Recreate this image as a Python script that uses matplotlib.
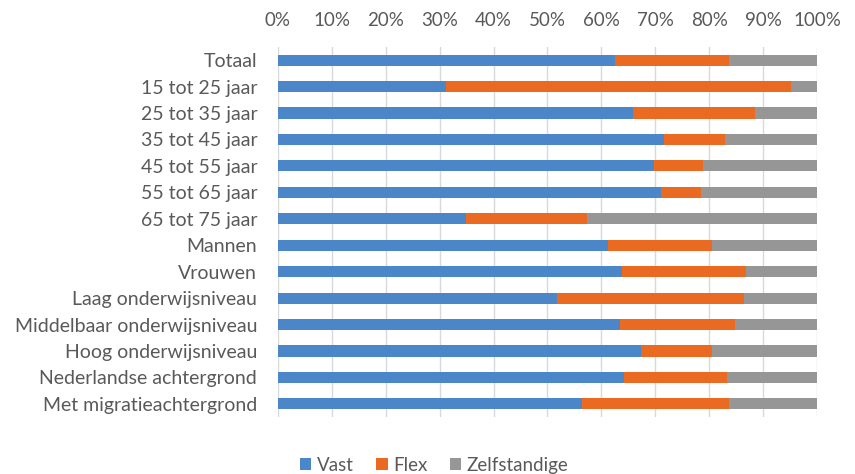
import matplotlib.pyplot as plt
from matplotlib.ticker import PercentFormatter

plt.rcParams['font.family'] = ['Lato', 'DejaVu Sans']

categories = ['Totaal', '15 tot 25 jaar', '25 tot 35 jaar', '35 tot 45 jaar',
              '45 tot 55 jaar', '55 tot 65 jaar', '65 tot 75 jaar', 'Mannen',
              'Vrouwen', 'Laag onderwijsniveau', 'Middelbaar onderwijsniveau',
              'Hoog onderwijsniveau', 'Nederlandse achtergrond',
              'Met migratieachtergrond']
vast = [62.5, 31.2, 65.8, 71.6, 69.7, 71.0, 34.9, 61.3, 63.8, 51.8, 63.5, 67.3, 64.2, 56.4]
flex = [21.1, 63.9, 22.7, 11.4, 9.1, 7.4, 22.5, 19.2, 23.0, 34.6, 21.3, 13.3, 19.1, 27.2]
zelf = [100 - v - f for v, f in zip(vast, flex)]

series = [('Vast', vast, '#4a86c8'), ('Flex', flex, '#ea6a21'),
          ('Zelfstandige', zelf, '#969696')]

fig = plt.figure(figsize=(8.55, 4.74), dpi=100)
ax = fig.add_axes([0.3251, 0.120, 0.6305, 0.781])

y = list(range(len(categories)))
left = [0.0] * len(categories)
for name, vals, col in series:
    ax.barh(y, vals, left=left, height=0.42, color=col, label=name)
    left = [a + b for a, b in zip(left, vals)]

ax.set_xlim(0, 100)
ax.set_ylim(len(categories) - 0.5, -0.5)
ax.set_xticks(range(0, 101, 10))
ax.xaxis.set_major_formatter(PercentFormatter(decimals=0))
ax.xaxis.tick_top()
ax.set_yticks(y)
ax.set_yticklabels(categories)
ax.tick_params(axis='both', length=0, colors='#595959')
ax.tick_params(axis='x', pad=13, labelsize=13.5)
ax.tick_params(axis='y', pad=15, labelsize=14)
ax.grid(axis='x', color='#d9d9d9', linewidth=1)
ax.set_axisbelow(True)
for s in ax.spines.values():
    s.set_visible(False)

fig.legend(loc='lower center', bbox_to_anchor=(0.508, -0.035), ncol=3, frameon=False,
           fontsize=13.5, handlelength=0.6, handleheight=0.6, handletextpad=0.3,
           columnspacing=1.2, labelcolor='#595959')

fig.savefig('out.png', dpi=100)
